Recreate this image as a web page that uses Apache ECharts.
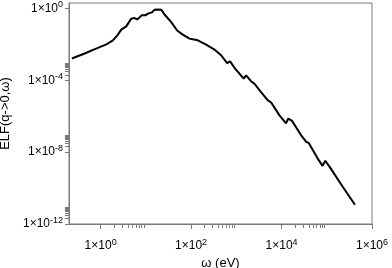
<!DOCTYPE html>
<html><head><meta charset="utf-8">
<script src="https://cdn.jsdelivr.net/npm/echarts@6/dist/echarts.min.js"></script>
<style>html,body{margin:0;padding:0;background:#fff}#c{width:392px;height:268px}</style>
</head><body><div id="c"></div>
<script>
// energy omega (eV)
var omega = [0.232,0.443,0.871,1.34,1.87,2.41,2.86,3.69,4.76,5.63,6.46,8.16,9.7,11.1,13.6,15.6,17.9,21.9,25.9,36.4,49.3,65.6,92.2,109,141,215,329,462,626,730,942,1457,1645,2188,2510,3527,4931,5960,8930,12560,14130,17060,26920,34750,39630,62610,80750,92700,117800,223400,419600];
// ELF(q->0, omega)
var elf = [1.62e-3,3.1e-3,6.3e-3,1.0e-2,1.68e-2,3.5e-2,6.6e-2,0.1,0.27,0.29,0.245,0.41,0.41,0.51,0.6,0.85,0.88,0.85,0.46,0.174,0.0587,0.0348,0.0208,0.019,0.0168,9.7e-3,5.1e-3,2.47e-3,9.0e-4,1.12e-3,4.4e-4,1.23e-4,1.87e-4,8.2e-5,6.5e-5,2.22e-5,7.9e-6,5.6e-6,1.15e-6,3.98e-7,7.4e-7,5.5e-7,8.9e-8,3.8e-8,3.3e-8,4.5e-9,1.73e-9,3.3e-9,1.42e-9,1.22e-10,1.18e-11];
var xMajorTicks = [1,100,10000,1000000];
var xMinorTicks = [2,3,4,5,6,7,8,9,200,300,400,500,600,700,800,900,20000,30000,40000,50000,60000,70000,80000,90000];
var yMajorTicks = [1e-12,1e-8,1e-4,1];
var yMinorTicks = [2e-12,3e-12,4e-12,5e-12,6e-12,7e-12,8e-12,9e-12,2e-8,3e-8,4e-8,5e-8,6e-8,7e-8,8e-8,9e-8,2e-4,3e-4,4e-4,5e-4,6e-4,7e-4,8e-4,9e-4];
var xName = 'ω (eV)';
var yName = 'ELF(q->0,ω)';

var pts = omega.map(function(w,i){return [w, elf[i]];});
var FONT = '"Liberation Sans", Arial, sans-serif';
var AX = '#7a7a7a';
function fmt(v){ var e = Math.round(Math.log10(v)); return '1×10{s|' + e + '}'; }
var rich = { s: { fontSize: 9, fontFamily: FONT, color: '#000', verticalAlign: 'top', padding:[0,0,7,0] } };

var chart = echarts.init(document.getElementById('c'), null, {renderer:'canvas'});
chart.setOption({
  animation: false,
  backgroundColor: '#fff',
  grid: { left: 69, right: 20, top: 3, bottom: 44, outerBoundsMode: 'none', containLabel: false, show: true, borderColor: AX, borderWidth: 1, backgroundColor: 'transparent' },
  xAxis: [{
    type: 'log', logBase: 10, min: 0.2, max: 1e6,
    name: xName, nameLocation: 'middle', nameGap: 29,
    nameTextStyle: { fontSize: 13, fontFamily: FONT, color: '#000' },
    axisLine: { show: true, lineStyle: { color: AX, width: 1 } },
    axisTick: { show: true, inside: false, length: 5, customValues: xMajorTicks, lineStyle: { color: AX } },
    axisLabel: { show: true, customValues: xMajorTicks, formatter: fmt, rich: rich, fontSize: 12, fontFamily: FONT, color: '#000', margin: 14 },
    splitLine: { show: false }, minorTick: { show: false }
  },{
    type: 'log', logBase: 10, min: 0.2, max: 1e6, position: 'bottom',
    axisLine: { show: false },
    axisTick: { show: true, inside: false, length: 4, customValues: xMinorTicks, lineStyle: { color: AX } },
    axisLabel: { show: false }, splitLine: { show: false }
  }],
  yAxis: [{
    type: 'log', logBase: 10, min: 1e-12, max: 2,
    name: yName, nameLocation: 'middle', nameGap: 55,
    nameTextStyle: { fontSize: 13, fontFamily: FONT, color: '#000' },
    axisLine: { show: true, lineStyle: { color: AX, width: 1 } },
    axisTick: { show: true, inside: false, length: 4, customValues: yMajorTicks, lineStyle: { color: AX } },
    axisLabel: { show: true, customValues: yMajorTicks, formatter: fmt, rich: rich, fontSize: 12, fontFamily: FONT, color: '#000', margin: 6 },
    splitLine: { show: false }, minorTick: { show: false }
  },{
    type: 'log', logBase: 10, min: 1e-12, max: 2, position: 'left',
    axisLine: { show: false },
    axisTick: { show: true, inside: false, length: 4, customValues: yMinorTicks, lineStyle: { color: AX } },
    axisLabel: { show: false }, splitLine: { show: false }
  }],
  series: [{
    type: 'line', data: pts, xAxisIndex: 0, yAxisIndex: 0,
    showSymbol: false, symbol: 'none', smooth: false,
    lineStyle: { color: '#000', width: 2 }, z: 5
  }]
});
</script></body></html>
